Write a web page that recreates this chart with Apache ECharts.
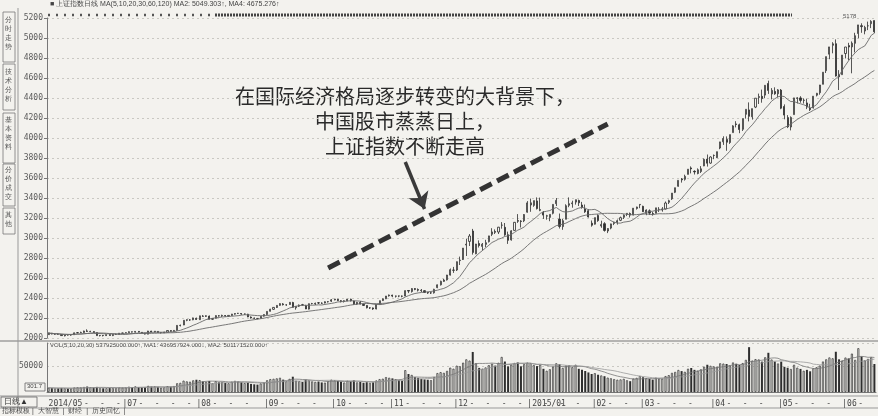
<!DOCTYPE html>
<html><head><meta charset="utf-8">
<script src="https://cdn.jsdelivr.net/npm/echarts@6/dist/echarts.min.js"></script>
<style>html,body{margin:0;padding:0;background:#f3f2ee;}#c{width:878px;height:416px;}</style>
</head><body><div id="c"></div>
<script>
// month blocks: label, trading days
const months = [['2014/05',3],['06',20],['07',23],['08',21],['09',21],['10',18],['11',20],['12',23],['2015/01',20],['02',15],['03',22],['04',21],['05',20],['06',11]];
// daily [open, close, low, high]
const ohlc = [
[2034,2050,2030,2053],[2049,2040,2036,2051],[2038,2039,2031,2044],
[2039,2038,2032,2045],[2036,2024,2021,2040],[2022,2030,2016,2033],[2031,2030,2024,2036],[2030,2032,2023,2035],
[2033,2052,2031,2054],[2052,2054,2046,2060],[2053,2056,2048,2063],[2055,2070,2052,2073],[2071,2066,2062,2087],
[2064,2066,2058,2072],[2064,2055,2050,2068],[2054,2024,2022,2056],[2024,2026,2016,2030],[2027,2024,2016,2030],
[2024,2034,2020,2036],[2034,2025,2023,2038],[2024,2036,2019,2038],[2036,2036,2030,2043],[2035,2048,2034,2050],
[2047,2050,2043,2053],[2050,2053,2048,2057],[2053,2063,2052,2066],[2062,2059,2055,2064],[2058,2066,2054,2068],
[2066,2059,2055,2069],[2057,2049,2046,2060],[2048,2039,2035,2052],[2038,2070,2037,2071],[2069,2060,2056,2072],
[2059,2068,2055,2070],[2066,2055,2052,2069],[2054,2054,2045,2058],[2052,2059,2049,2062],[2058,2075,2056,2077],
[2074,2067,2062,2078],[2066,2076,2063,2078],[2076,2126,2074,2128],[2124,2127,2116,2134],[2130,2177,2129,2179],
[2177,2183,2168,2186],[2180,2181,2171,2190],[2182,2201,2178,2203],
[2197,2185,2181,2204],[2183,2222,2180,2223],[2220,2217,2211,2229],[2216,2223,2210,2227],[2219,2188,2186,2225],
[2187,2195,2180,2196],[2197,2224,2195,2227],[2222,2221,2214,2229],[2221,2226,2211,2233],[2224,2219,2213,2230],
[2217,2226,2210,2228],[2225,2239,2222,2241],[2238,2245,2233,2248],[2246,2247,2240,2251],[2245,2240,2232,2248],
[2240,2240,2231,2245],[2238,2211,2208,2242],[2209,2200,2195,2216],[2198,2197,2189,2205],[2196,2195,2186,2200],
[2197,2217,2195,2218],
[2219,2235,2214,2236],[2235,2266,2232,2267],[2267,2288,2265,2292],[2287,2306,2281,2310],[2305,2326,2300,2328],
[2326,2344,2322,2348],[2341,2333,2325,2350],[2331,2331,2322,2338],[2335,2357,2333,2360],[2355,2307,2303,2362],
[2302,2316,2283,2318],[2318,2329,2310,2335],[2332,2329,2325,2341],[2323,2290,2289,2332],[2289,2343,2285,2345],
[2345,2345,2336,2351],[2340,2347,2330,2354],[2352,2350,2340,2360],[2348,2347,2340,2357],[2350,2363,2346,2366],
[2362,2364,2355,2369],
[2368,2382,2360,2390],[2381,2389,2377,2392],[2387,2375,2369,2391],[2373,2366,2356,2379],[2365,2373,2355,2377],
[2371,2389,2368,2390],[2388,2373,2365,2393],[2370,2342,2331,2373],[2339,2357,2331,2361],[2356,2339,2336,2370],
[2337,2326,2320,2345],[2325,2302,2296,2327],[2300,2302,2290,2310],[2301,2290,2281,2305],[2290,2337,2287,2338],
[2337,2373,2334,2374],[2374,2391,2370,2395],[2392,2420,2389,2420],
[2422,2430,2414,2434],[2428,2419,2408,2433],[2418,2420,2405,2424],[2421,2419,2408,2425],[2419,2418,2407,2425],
[2420,2474,2418,2476],[2475,2469,2449,2478],[2465,2494,2454,2499],[2494,2486,2478,2500],[2485,2478,2465,2496],
[2478,2474,2460,2490],[2473,2456,2450,2478],[2455,2450,2441,2462],[2450,2452,2440,2460],[2452,2487,2444,2492],
[2504,2532,2498,2535],[2532,2567,2525,2573],[2566,2580,2561,2591],[2581,2630,2575,2631],[2629,2683,2625,2695],
[2677,2680,2651,2711],[2680,2763,2670,2765],[2774,2779,2730,2814],[2785,2899,2780,2900],[2930,2938,2820,2993],
[2966,3020,2920,3040],[3070,2856,2834,3091],[2842,2940,2838,2941],[2945,2925,2905,2976],[2916,2938,2874,2950],
[2936,2953,2908,2982],[2964,3021,2955,3022],[3037,3061,3019,3098],[3066,3057,3040,3086],[3060,3108,3040,3111],
[3128,3128,3093,3159],[3107,3032,3022,3150],[3033,2977,2941,3064],[2981,3072,2974,3078],[3076,3157,3073,3160],
[3174,3168,3151,3239],[3170,3166,3105,3178],[3172,3235,3159,3239],
[3258,3351,3253,3369],[3330,3352,3262,3394],[3326,3374,3312,3374],[3371,3294,3285,3406],[3276,3285,3268,3404],
[3259,3229,3191,3270],[3218,3223,3183,3232],[3206,3236,3168,3236],[3247,3336,3236,3337],[3343,3376,3320,3400],
[3189,3116,3095,3245],[3114,3173,3082,3190],[3187,3323,3187,3337],[3327,3343,3308,3406],[3343,3351,3303,3373],
[3359,3383,3334,3384],[3375,3352,3320,3384],[3330,3305,3293,3361],[3290,3262,3251,3335],[3273,3210,3205,3288],
[3148,3128,3113,3175],[3138,3204,3134,3204],[3226,3174,3162,3237],[3120,3136,3102,3173],[3143,3076,3064,3158],
[3070,3095,3049,3098],[3099,3141,3087,3143],[3145,3157,3129,3161],[3157,3173,3134,3185],[3177,3203,3169,3214],
[3207,3228,3190,3236],[3235,3247,3219,3250],[3245,3229,3205,3255],[3230,3298,3227,3300],[3295,3310,3284,3313],
[3332,3336,3298,3337],[3317,3263,3260,3323],[3246,3280,3228,3286],[3272,3249,3230,3286],[3244,3241,3224,3262],
[3247,3302,3247,3302],[3286,3286,3260,3309],[3280,3291,3263,3309],[3290,3350,3286,3365],[3357,3373,3340,3383],
[3391,3449,3381,3449],[3457,3503,3449,3503],[3517,3577,3513,3577],[3590,3582,3554,3600],[3587,3617,3574,3633],
[3636,3688,3636,3688],[3701,3691,3646,3716],[3667,3661,3635,3677],[3645,3683,3637,3696],[3665,3692,3650,3719],
[3721,3786,3718,3795],[3789,3748,3714,3835],
[3749,3810,3742,3817],[3825,3826,3788,3835],[3803,3863,3800,3864],[3900,3961,3888,3962],[3962,3995,3931,4017],
[3986,3958,3872,4016],[3955,4034,3941,4034],[4054,4121,4054,4128],[4141,4135,4106,4168],[4132,4085,4048,4144],
[4087,4194,4070,4194],[4237,4287,4194,4287],[4281,4217,4166,4356],[4212,4294,4184,4294],[4309,4398,4299,4400],
[4405,4415,4340,4444],[4417,4394,4353,4484],[4429,4527,4398,4529],[4545,4476,4441,4573],[4441,4476,4386,4499],
[4466,4442,4432,4507],
[4442,4481,4406,4489],[4479,4298,4288,4490],[4315,4229,4187,4336],[4204,4112,4099,4229],[4110,4206,4076,4216],
[4234,4401,4234,4402],[4395,4402,4346,4409],[4401,4376,4353,4418],[4376,4378,4344,4395],[4351,4309,4289,4393],
[4299,4284,4270,4342],[4301,4418,4295,4418],[4428,4447,4416,4451],[4453,4530,4433,4531],[4537,4658,4537,4658],
[4673,4814,4650,4814],[4838,4911,4788,4911],[4927,4942,4847,4958],[4943,4620,4614,4986],[4633,4612,4480,4679],
[4633,4829,4633,4829],[4845,4910,4796,4911],[4924,4910,4777,4952],[4911,4948,4647,4966],[4947,5023,4856,5052],
[5045,5131,4998,5131],[5123,5114,5052,5147],[5070,5106,5037,5122],[5122,5122,5079,5164],[5143,5166,5099,5178],
[5174,5062,5048,5176]
];
// daily volume (万手)
const volumes = [
8200,7600,7000,
7200,7800,7000,6600,6900,8600,9000,8800,9600,10500,9200,8600,9800,7400,7200,7300,7800,7600,7400,8800,
8600,8900,10200,9400,10800,9600,9000,9400,11800,10400,10600,9800,8400,9200,11200,10200,11400,16800,17600,21800,20400,19800,22400,
23600,22800,20400,19600,21200,16800,20800,18600,19200,17400,16800,19800,21400,20600,18400,17200,17800,15600,14800,14200,16400,
18800,22600,24800,25400,26200,27400,23800,20600,25200,29400,21800,20800,19200,23800,22600,20400,19400,20200,18400,18000,20800,
23600,22400,21400,19800,18200,21600,20400,22400,18600,19400,17800,18800,17600,18400,22200,24800,25600,28600,
27400,26200,24400,22800,21600,42000,34600,32800,28400,27200,25400,24200,23600,22800,28600,36400,38200,36800,40600,46800,
44800,50600,49600,56400,62800,60400,77000,55400,46400,44800,47200,51600,54400,50800,56200,67400,58600,49200,52600,55800,56800,49400,53600,
56400,55400,51800,49800,52400,44600,40800,43800,48600,55200,53400,46200,50800,51600,47600,52400,44600,42800,40400,37600,
34600,36200,33200,31800,30400,27600,26400,24800,23600,24200,25400,22600,20800,25800,27200,
30800,28400,26600,25400,23800,27600,26200,25800,30600,32400,36800,38600,42400,40200,38800,44800,46200,42600,40800,43600,48600,52400,
50400,49200,48600,55200,54600,53800,51200,56800,54400,51800,55600,61800,86200,60400,63200,62600,58400,66800,75400,62400,58600,
54800,58400,48400,46600,44200,52400,46800,44400,40800,42600,39800,45600,47600,50800,58600,62800,66400,64800,77400,62800,
60400,66200,64600,73800,61800,84200,68400,60800,63600,66800,53800
];
const priceLevels = {min:2000, max:5200, step:200};
const volTickValue = 50000;

const cats = [], monthIdxOf = [], dayIdxOf = [];
months.forEach(([m,n],mi)=>{ for(let k=0;k<n;k++){ cats.push(m+'#'+mi+'-'+k); monthIdxOf.push(mi); dayIdxOf.push(k); } });
function labelFor(i){
  const mi = monthIdxOf[i], k = dayIdxOf[i], n = months[mi][1];
  if(mi===0) return k===0 ? months[0][0] : null;
  if(k===0 && mi!==1) return '|' + months[mi][0];
  if(mi===1) return (k===3||k===8||k===13||k===18) ? '-' : null;
  if(k>0 && k%5===0 && n-k>=3) return '-';
  return null;
}
const closes = ohlc.map(r=>r[1]);
function ma(arr, n){ return arr.map((v,i)=>{ const s=Math.max(0,i-n+1); let t=0; for(let j=s;j<=i;j++) t+=arr[j]; return +(t/(i-s+1)).toFixed(2); }); }
const ma10 = ma(closes,10), ma30 = ma(closes,30);
const vma10 = ma(volumes,10), vma20 = ma(volumes,20);

const BG = '#f3f2ee', INK = '#2e2e2e', AX = '#5a5a5a';
const chart = echarts.init(document.getElementById('c'));
const volData = volumes.map((v,i)=>({value:v, itemStyle: ohlc[i][1]>=ohlc[i][0] ? {color:BG, borderColor:INK, borderWidth:0.7} : {color:INK}}));

chart.setOption({
  backgroundColor: BG,
  animation:false,
  textStyle:{fontFamily:'"Noto Sans CJK SC", "Noto Sans", sans-serif'},
  grid:[{left:47, right:2, top:18, height:320},{left:47, right:2, top:343, height:49}],
  xAxis:[
    {type:'category', gridIndex:0, data:cats, boundaryGap:true, axisLine:{show:false}, axisTick:{show:false}, axisLabel:{show:false}, splitLine:{show:false}},
    {type:'category', gridIndex:1, data:cats, boundaryGap:true,
      axisLine:{show:true, lineStyle:{color:'#777', width:1}}, axisTick:{show:false},
      axisLabel:{show:true, showMinLabel:true, hideOverlap:false, interval:(i)=>labelFor(i)!==null, formatter:(v,i)=>labelFor(i)||'', align:'left', color:'#444', fontSize:8, margin:8, fontFamily:'"DejaVu Sans Mono", monospace'},
      splitLine:{show:false}}
  ],
  yAxis:[
    {type:'value', gridIndex:0, min:priceLevels.min, max:priceLevels.max, interval:priceLevels.step,
      axisLine:{show:true, lineStyle:{color:'#777'}}, axisTick:{show:true, length:3, lineStyle:{color:'#777'}},
      axisLabel:{color:AX, fontSize:8, margin:4, formatter:(v)=>String(v), fontFamily:'"DejaVu Sans Mono", monospace'},
      splitLine:{show:true, lineStyle:{color:'#c9c8c2', type:[2,3], width:1}}},
    {type:'value', gridIndex:1, min:0, max:volTickValue*49/26, interval:volTickValue,
      axisLine:{show:true, lineStyle:{color:'#777'}}, axisTick:{show:false},
      axisLabel:{color:AX, fontSize:8, margin:4, showMinLabel:false, showMaxLabel:false, formatter:(v)=>String(v), fontFamily:'"DejaVu Sans Mono", monospace'},
      splitLine:{show:true, lineStyle:{color:'#c9c8c2', type:[2,3]}}}
  ],
  series:[
    {type:'candlestick', xAxisIndex:0, yAxisIndex:0, data:ohlc.map(r=>[r[0],r[1],r[2],r[3]]), barMaxWidth:2.4,
      itemStyle:{color:BG, color0:INK, borderColor:INK, borderColor0:INK, borderWidth:0.8},
      markLine:{silent:true, symbol:['none','none'], animation:false, label:{show:false},
        data:[
          [{coord:[87,2700], lineStyle:{color:'#333', width:5, type:[13,6]}},{coord:[174,4140]}]
        ]}
    },
    {type:'line', xAxisIndex:0, yAxisIndex:0, data:ma10, showSymbol:false, lineStyle:{color:'#6a6a6a', width:0.9}},
    {type:'line', xAxisIndex:0, yAxisIndex:0, data:ma30, showSymbol:false, lineStyle:{color:'#6a6a6a', width:0.9},
      markLine:{silent:true, animation:false, label:{show:false}, symbol:['none','arrow'], symbolSize:[16,16],
        data:[[{coord:[111,3760], lineStyle:{color:'#3a3a3a', width:3.5, type:'solid'}},{coord:[116.5,3290]}]]}},
    {type:'bar', xAxisIndex:1, yAxisIndex:1, data:volData, barWidth:2},
    {type:'line', xAxisIndex:1, yAxisIndex:1, data:vma10, showSymbol:false, lineStyle:{color:'#777', width:0.8}},
    {type:'line', xAxisIndex:1, yAxisIndex:1, data:vma20, showSymbol:false, lineStyle:{color:'#999', width:0.8}}
  ],
  graphic:[
    {type:'line', shape:{x1:0,y1:341,x2:878,y2:341}, style:{stroke:'#777', lineWidth:1}},
    {type:'line', shape:{x1:0,y1:396,x2:878,y2:396}, style:{stroke:'#999', lineWidth:1}},
    {type:'line', shape:{x1:0,y1:408,x2:878,y2:408}, style:{stroke:'#999', lineWidth:1}},
    {type:'line', shape:{x1:18,y1:8,x2:18,y2:408}, style:{stroke:'#999', lineWidth:1}},
    {type:'text', left:50, top:1, style:{text:'■ 上证指数日线 MA(5,10,20,30,60,120) MA2: 5049.303↑, MA4: 4675.276↑', fontSize:7, fill:'#444'}},
    {type:'line', shape:{x1:48,y1:15,x2:215,y2:15}, style:{stroke:'#555', lineWidth:2.5, lineDash:[2,6]}},
    {type:'line', shape:{x1:215,y1:15,x2:792,y2:15}, style:{stroke:'#444', lineWidth:3, lineDash:[2,1]}},
    {type:'text', left:843, top:13, style:{text:'5178', fontSize:6, fill:'#555'}},
    {type:'text', left:50, top:342, style:{text:'VOL(5,10,20,30) 537925000.000↑, MA1: 436957924.000↓, MA2: 501171520.000↑', fontSize:6, fill:'#444'}},
    {type:'rect', shape:{x:25,y:383,width:20,height:8}, style:{fill:'none', stroke:'#666', lineWidth:0.8}},
    {type:'text', left:27, top:383, style:{text:'301.7', fontSize:6, fill:'#444'}},
    {type:'rect', shape:{x:1,y:397,width:36,height:10}, style:{fill:'none', stroke:'#666', lineWidth:0.8}},
    {type:'text', left:4, top:398, style:{text:'日线▲', fontSize:8, fill:'#333'}},
    {type:'text', left:2, top:408, style:{text:'指标模板 |  大智慧  |  财经  |  历史回忆  |', fontSize:7, fill:'#444'}},
    {type:'rect', shape:{x:3,y:12,width:12,height:50}, style:{fill:'none', stroke:'#777', lineWidth:0.8}},
    {type:'text', left:5, top:16, style:{text:'分\n时\n走\n势', fontSize:7, fill:'#555', lineHeight:9}},
    {type:'rect', shape:{x:3,y:64,width:12,height:46}, style:{fill:'none', stroke:'#777', lineWidth:0.8}},
    {type:'text', left:5, top:68, style:{text:'技\n术\n分\n析', fontSize:7, fill:'#555', lineHeight:9}},
    {type:'rect', shape:{x:3,y:113,width:12,height:50}, style:{fill:'none', stroke:'#777', lineWidth:0.8}},
    {type:'text', left:5, top:116, style:{text:'基\n本\n资\n料', fontSize:7, fill:'#555', lineHeight:9}},
    {type:'rect', shape:{x:3,y:164,width:12,height:42}, style:{fill:'none', stroke:'#777', lineWidth:0.8}},
    {type:'text', left:5, top:166, style:{text:'分\n价\n成\n交', fontSize:7, fill:'#555', lineHeight:9}},
    {type:'rect', shape:{x:3,y:208,width:12,height:26}, style:{fill:'none', stroke:'#777', lineWidth:0.8}},
    {type:'text', left:5, top:211, style:{text:'其\n他', fontSize:7, fill:'#555', lineHeight:9}},
    {type:'text', x:405, y:96, style:{text:'在国际经济格局逐步转变的大背景下，', fill:'#2a2a2a', align:'center', verticalAlign:'middle', font:'20px "Noto Sans CJK SC"'}},
    {type:'text', x:405, y:121, style:{text:'中国股市蒸蒸日上，', fill:'#2a2a2a', align:'center', verticalAlign:'middle', font:'20px "Noto Sans CJK SC"'}},
    {type:'text', x:405, y:146, style:{text:'上证指数不断走高', fill:'#2a2a2a', align:'center', verticalAlign:'middle', font:'20px "Noto Sans CJK SC"'}}
  ]
});
</script></body></html>
